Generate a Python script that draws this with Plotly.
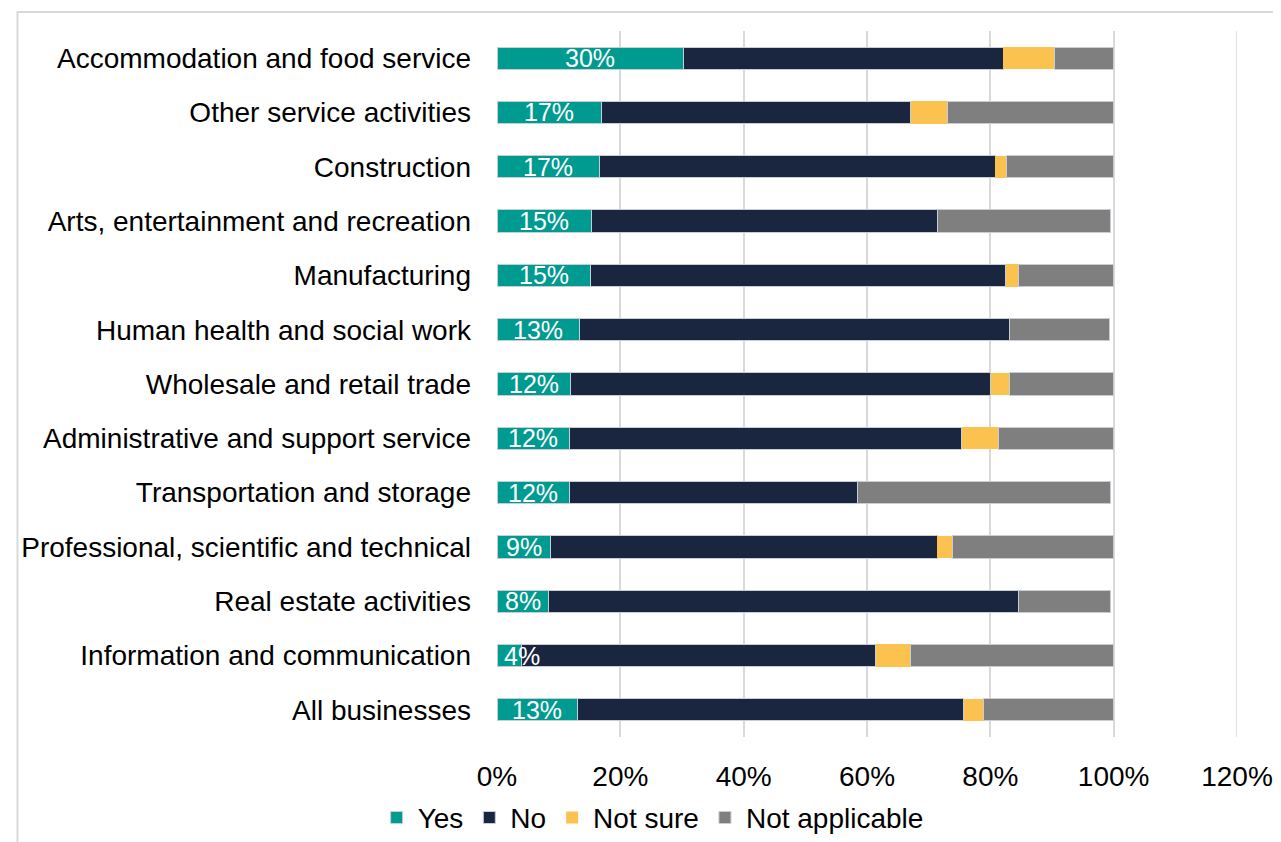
import plotly.graph_objects as go

# Sectors, top to bottom as shown in the chart
sectors = [
    "Accommodation and food service",
    "Other service activities",
    "Construction",
    "Arts, entertainment and recreation",
    "Manufacturing",
    "Human health and social work",
    "Wholesale and retail trade",
    "Administrative and support service",
    "Transportation and storage",
    "Professional, scientific and technical",
    "Real estate activities",
    "Information and communication",
    "All businesses",
]

# Shares of businesses (fractions)
yes = [0.303, 0.170, 0.166, 0.153, 0.151, 0.133, 0.119, 0.117, 0.117, 0.086, 0.083, 0.039, 0.130]
no = [0.518, 0.501, 0.642, 0.561, 0.674, 0.698, 0.682, 0.637, 0.467, 0.628, 0.763, 0.575, 0.627]
not_sure = [0.083, 0.060, 0.019, 0.000, 0.021, 0.000, 0.030, 0.059, 0.000, 0.024, 0.000, 0.056, 0.032]
not_applicable = [0.096, 0.269, 0.173, 0.281, 0.154, 0.163, 0.168, 0.187, 0.411, 0.262, 0.149, 0.330, 0.210]

yes_labels = [f"{round(v * 100)}%" for v in yes]

font_family = "Liberation Sans, Arial, sans-serif"
edge = dict(color="#c8ccd4", width=1)
grid_color = "#d9d9d9"

fig = go.Figure()

fig.add_trace(go.Bar(
    name="Yes", y=sectors, x=yes, orientation="h",
    marker=dict(color="#009B90", line=edge),
))
fig.add_trace(go.Bar(
    name="No", y=sectors, x=no, orientation="h",
    marker=dict(color="#1A2540", line=edge),
))
fig.add_trace(go.Bar(
    name="Not sure", y=sectors, x=not_sure, orientation="h",
    marker=dict(color="#FBC250", line=dict(width=0)),
))
fig.add_trace(go.Bar(
    name="Not applicable", y=sectors, x=not_applicable, orientation="h",
    marker=dict(color="#7F7F7F", line=edge),
))

# "Yes" data labels centred on the teal segment (may overflow like the original)
for sector, val, label in zip(sectors, yes, yes_labels):
    fig.add_annotation(
        x=max(val / 2, 0.04), y=sector, text=label, showarrow=False,
        xanchor="center", yanchor="middle",
        font=dict(color="white", size=25, family=font_family),
    )

fig.update_layout(
    barmode="stack",
    bargap=0.59,
    width=1273, height=834,
    margin=dict(l=489, r=44, t=23, b=105, autoexpand=False),
    paper_bgcolor="white",
    plot_bgcolor="white",
    font=dict(family=font_family, size=28, color="#000000"),
    showlegend=True,
    legend=dict(
        orientation="h", xref="container", x=0.506, xanchor="center",
        yref="container", y=0.029, yanchor="middle",
        font=dict(size=28), traceorder="normal", itemwidth=32,
    ),
    xaxis=dict(
        range=[0, 1.2], dtick=0.2, tickformat=".0%",
        showgrid=True, gridcolor=grid_color, gridwidth=1.5,
        zeroline=False, showline=False, automargin=False,
        ticklabelstandoff=20,
    ),
    yaxis=dict(
        range=[len(sectors) - 0.5, -0.5], showgrid=False, showline=False,
        automargin=False, ticklabelstandoff=25,
    ),
    shapes=[
        dict(
            type="rect", xref="paper", yref="paper",
            x0=-0.648, x1=1.08, y0=-0.2, y1=1.027,
            line=dict(color=grid_color, width=2), layer="below",
        ),
        dict(
            type="line", xref="x", yref="paper",
            x0=1.2, x1=1.2, y0=0, y1=1,
            line=dict(color=grid_color, width=1.5), layer="below",
        ),
    ],
)

fig.write_html("out.html")
